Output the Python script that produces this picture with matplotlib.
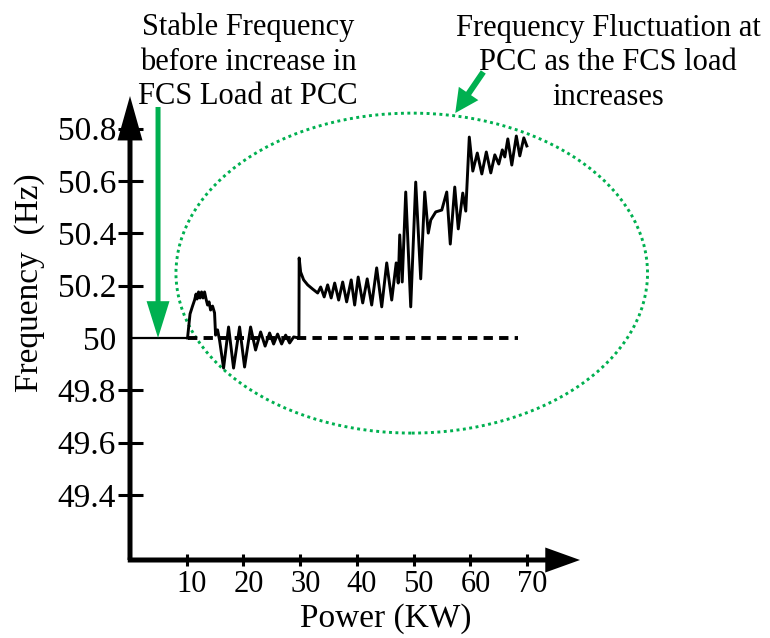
import matplotlib
matplotlib.use("Agg")
import matplotlib.pyplot as plt
from matplotlib.patches import Ellipse
from matplotlib.transforms import ScaledTranslation

plt.rcParams['font.family'] = ['Liberation Serif', 'DejaVu Serif']

# data
x_ticks = [10, 20, 30, 40, 50, 60, 70]
y_ticks = [49.4, 49.6, 49.8, 50.0, 50.2, 50.4, 50.6, 50.8]
y_tick_labels = ["49.4", "49.6", "49.8", "50", "50.2", "50.4", "50.6", "50.8"]

# stable part before the load step
stable_power = [0, 10.14]
stable_freq = [50.0, 50.0]

# nominal 50 Hz reference (dashed)
ref_power = [10.14, 68.3]
ref_freq = [50.0, 50.0]

# frequency at PCC while the FCS load increases
power = [10.14, 10.32, 10.58, 11.02, 11.38, 11.64, 11.82, 12.08, 12.35, 12.61,
         12.87, 13.14, 13.40, 13.67, 13.93, 14.20, 14.55, 14.90, 15.08, 15.43,
         15.78, 16.49, 17.37, 18.25, 19.31, 20.19, 21.25, 22.13, 23.02, 23.81,
         24.60, 25.31, 26.01, 26.72, 27.43, 28.13, 28.84, 29.77, 29.81, 30.07,
         30.60, 31.31, 32.19, 33.07, 33.60, 34.22, 34.83, 35.45, 36.07, 36.77,
         37.48, 38.18, 38.98, 39.59, 40.21, 41.01, 41.80, 42.59, 43.47, 44.36,
         45.24, 46.12, 46.91, 47.27, 47.53, 47.97, 48.59, 49.47, 50.35, 51.23,
         51.94, 52.56, 53.00, 53.88, 54.94, 55.82, 56.44, 57.23, 57.85, 58.64,
         59.17, 59.79, 60.41, 61.20, 62.00, 62.79, 63.58, 64.29, 64.99, 65.61,
         66.05, 66.58, 67.28, 68.08, 68.69, 69.40, 69.93]
freq = [50.0, 50.038, 50.092, 50.122, 50.145, 50.168, 50.149, 50.176, 50.153, 50.176,
        50.153, 50.176, 50.149, 50.126, 50.138, 50.107, 50.122, 50.096, 50.011, 50.031,
        49.992, 49.885, 50.042, 49.885, 50.042, 49.889, 50.042, 49.954, 50.023, 49.969,
        50.019, 49.977, 50.015, 49.977, 50.011, 49.981, 50.004, 50.0, 50.306, 50.252,
        50.222, 50.203, 50.187, 50.172, 50.195, 50.157, 50.203, 50.153, 50.210, 50.145,
        50.214, 50.138, 50.222, 50.126, 50.233, 50.134, 50.226, 50.126, 50.268, 50.119,
        50.287, 50.145, 50.287, 50.210, 50.394, 50.214, 50.558, 50.119, 50.596, 50.226,
        50.558, 50.401, 50.451, 50.482, 50.489, 50.558, 50.359, 50.577, 50.417, 50.554,
        50.485, 50.768, 50.638, 50.707, 50.627, 50.711, 50.631, 50.700, 50.665, 50.719,
        50.692, 50.761, 50.661, 50.772, 50.696, 50.765, 50.734]

green = '#00B050'

fig = plt.figure(figsize=(7.7, 6.38), dpi=100)
ax = fig.add_axes([130 / 770, 1 - 560 / 638, 450 / 770, 464 / 638])
ax.set_xlim(0, 79.3)
ax.set_ylim(49.1514, 50.925)
for s in ax.spines.values():
    s.set_visible(False)

# axes drawn as thick arrows
ax.annotate('', xy=(0, 1), xytext=(0, 0), xycoords='axes fraction',
            arrowprops=dict(facecolor='k', edgecolor='k', lw=0, width=3.6,
                            headwidth=18, headlength=32, shrink=0),
            annotation_clip=False)
ax.annotate('', xy=(1, 0), xytext=(-0.005, 0), xycoords='axes fraction',
            arrowprops=dict(facecolor='k', edgecolor='k', lw=0, width=3.6,
                            headwidth=18, headlength=25, shrink=0),
            annotation_clip=False)

ax.plot(stable_power, stable_freq, color='k', lw=1.6, solid_capstyle='butt', clip_on=False)
ax.plot(ref_power, ref_freq, color='k', lw=2.8, dashes=(2.4, 1.6), clip_on=False)
ax.plot(power, freq, color='k', lw=2.1, solid_joinstyle='round', clip_on=False)

ax.set_xticks(x_ticks)
ax.set_xticklabels([str(v) for v in x_ticks])
ax.set_yticks(y_ticks)
ax.set_yticklabels(y_tick_labels)
ax.tick_params(axis='x', direction='inout', length=9, width=2.2, labelsize=22, pad=3)
ax.tick_params(axis='y', direction='inout', length=18, width=2.2, labelsize=24, pad=1)
ax.yaxis.get_major_ticks()[3].tick1line.set_visible(False)
off = ScaledTranslation(5 / 100, 0, fig.dpi_scale_trans)
for lab in ax.get_xticklabels():
    lab.set_transform(lab.get_transform() + off)

ax.set_xlabel('Power (KW)', fontsize=24)
ax.xaxis.set_label_coords((386 - 130) / 450, (560 - 603) / 464)
ax.set_ylabel('Frequency  (Hz)', fontsize=24, va='center')
ax.yaxis.set_label_coords((30 - 130) / 450, (560 - 283) / 464)

# green annotations
ax.add_patch(Ellipse((49.65, 50.248), 83.1, 1.223, fill=False, edgecolor=green,
                     lw=2.1, linestyle=(0, (1.0, 1.2)), clip_on=False))
ax.annotate('', xy=(4.94, 50.0), xytext=(4.94, 50.883),
            arrowprops=dict(facecolor=green, edgecolor=green, lw=0, width=3.6,
                            headwidth=16.5, headlength=26.5, shrink=0),
            annotation_clip=False)
ax.annotate('', xy=(57.32, 50.86), xytext=(62.26, 51.017),
            arrowprops=dict(facecolor=green, edgecolor=green, lw=0, width=4.3,
                            headwidth=17, headlength=17, shrink=0),
            annotation_clip=False)

fig.text(248 / 770, 1 - 62 / 638, 'Stable Frequency\nbefore increase in\nFCS Load at PCC',
         ha='center', va='center', fontsize=22, linespacing=1.25, multialignment='center')
fig.text(608 / 770, 1 - 63 / 638, 'Frequency Fluctuation at\nPCC as the FCS load\nincreases',
         ha='center', va='center', fontsize=22, linespacing=1.25, multialignment='center')

fig.savefig('out.png', dpi=100)
